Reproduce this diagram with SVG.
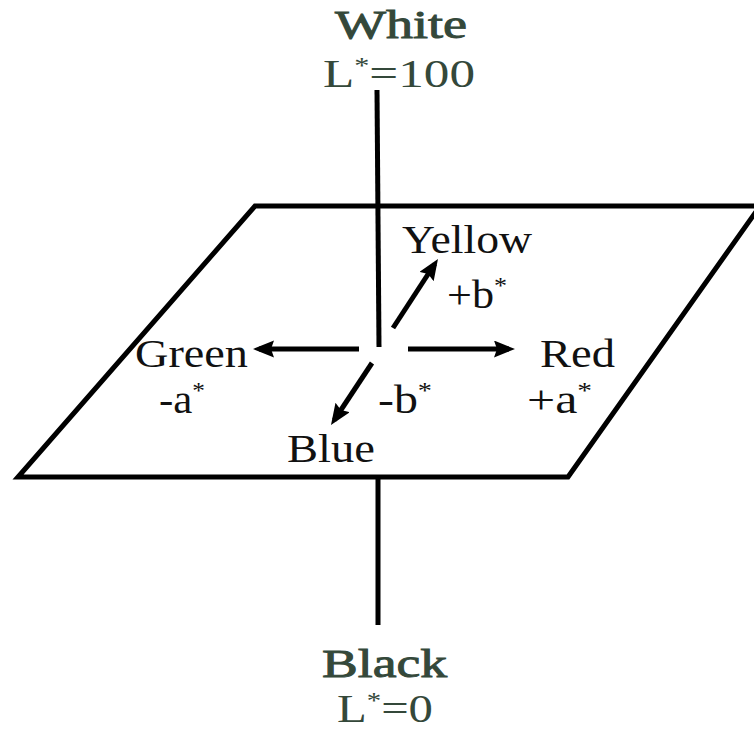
<svg xmlns="http://www.w3.org/2000/svg" width="754" height="729" viewBox="0 0 754 729">
<style>
.t{font-family:"Liberation Serif","Times New Roman",serif;font-size:39px;fill:#111}
.g{fill:#34483a}
.b{stroke:#34483a;stroke-width:0.9}
.s{font-size:23px}
.ln{stroke:#000;stroke-width:5;fill:none}
</style>
<defs>
<marker id="ah" markerWidth="4.4" markerHeight="3.6" refX="3" refY="1.7" orient="auto" markerUnits="strokeWidth">
<path d="M0,0 L4.2,1.7 L0,3.4 L0.6,1.7 Z" fill="#000"/>
</marker>
</defs>
<rect width="754" height="729" fill="#fff"/>
<g id="plane">
<polygon class="ln" points="255,206 760,206 568,477 18,477" stroke-linejoin="miter"/>
</g>
<g id="connectors">
<line class="ln" x1="377" y1="90" x2="379" y2="347"/>
<line class="ln" x1="378" y1="478" x2="378" y2="625"/>
<line class="ln" x1="359" y1="349" x2="259" y2="349" marker-end="url(#ah)"/>
<line class="ln" x1="408" y1="349" x2="509" y2="349" marker-end="url(#ah)"/>
<line class="ln" x1="393" y1="328" x2="434.7" y2="264" marker-end="url(#ah)"/>
<line class="ln" x1="372" y1="363" x2="334.3" y2="420" marker-end="url(#ah)"/>
</g>
<g id="white">
<text class="t g b" x="335" y="38" textLength="132" lengthAdjust="spacingAndGlyphs">White</text>
<text class="t g" x="323" y="87" textLength="152" lengthAdjust="spacingAndGlyphs">L<tspan class="s" dy="-14">*</tspan><tspan dy="14">=100</tspan></text>
</g>
<g id="black">
<text class="t g b" x="322" y="677" textLength="125" lengthAdjust="spacingAndGlyphs">Black</text>
<text class="t g" x="337" y="722" textLength="96" lengthAdjust="spacingAndGlyphs">L<tspan class="s" dy="-14">*</tspan><tspan dy="14">=0</tspan></text>
</g>
<g id="green">
<text class="t" x="135" y="367" textLength="113" lengthAdjust="spacingAndGlyphs">Green</text>
<text class="t" x="159" y="413" textLength="46" lengthAdjust="spacingAndGlyphs">-a<tspan class="s" dy="-15">*</tspan></text>
</g>
<g id="red">
<text class="t" x="540" y="367" textLength="75" lengthAdjust="spacingAndGlyphs">Red</text>
<text class="t" x="527" y="413" textLength="65" lengthAdjust="spacingAndGlyphs">+a<tspan class="s" dy="-15">*</tspan></text>
</g>
<g id="yellow">
<text class="t" x="402" y="253" textLength="130" lengthAdjust="spacingAndGlyphs">Yellow</text>
<text class="t" x="447" y="308" textLength="60" lengthAdjust="spacingAndGlyphs">+b<tspan class="s" dy="-15">*</tspan></text>
</g>
<g id="blue">
<text class="t" x="287" y="462" textLength="88" lengthAdjust="spacingAndGlyphs">Blue</text>
<text class="t" x="378" y="413" textLength="54" lengthAdjust="spacingAndGlyphs">-b<tspan class="s" dy="-15">*</tspan></text>
</g>
</svg>
